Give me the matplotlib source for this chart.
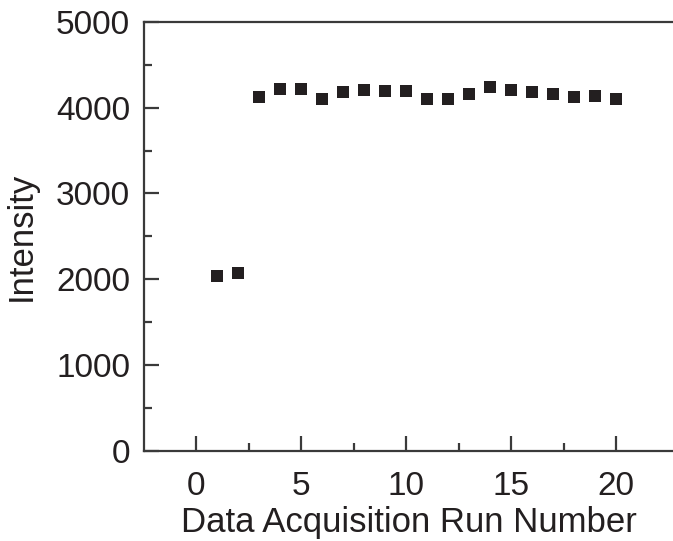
import numpy as np
import matplotlib.pyplot as plt
from matplotlib.ticker import MultipleLocator, FixedLocator

plt.rcParams['font.family'] = ['Liberation Sans', 'DejaVu Sans']

# run number vs measured intensity
run_number = np.arange(1, 21)
intensity = [2035, 2078, 4127, 4214, 4214, 4101, 4179, 4202, 4191, 4198,
             4105, 4098, 4156, 4244, 4202, 4179, 4163, 4124, 4140, 4101]

ink = '#231f20'

fig = plt.figure(figsize=(6.73, 5.41), dpi=100)
ax = fig.add_axes([0.214, 0.166, 0.786, 0.794])

ax.plot(run_number, intensity, 's', color=ink, markersize=9, markeredgewidth=0)

ax.set_xlim(-2.5, 22.7)
ax.set_ylim(0, 5000)
ax.xaxis.set_major_locator(MultipleLocator(5))
ax.xaxis.set_minor_locator(FixedLocator([2.5, 7.5, 12.5, 17.5]))
ax.yaxis.set_major_locator(MultipleLocator(1000))
ax.yaxis.set_minor_locator(MultipleLocator(500))

ax.spines['right'].set_visible(False)
for s in ['left', 'bottom', 'top']:
    ax.spines[s].set_linewidth(1.6)
    ax.spines[s].set_color('#3a3a3a')

ax.tick_params(which='major', direction='in', length=11, width=1.6, color='#3a3a3a',
               labelsize=24, labelcolor=ink)
ax.tick_params(which='minor', direction='in', length=6, width=1.6, color='#3a3a3a')
ax.tick_params(axis='x', which='major', pad=14)
ax.tick_params(axis='y', which='major', pad=10)
ax.tick_params(top=False, right=False, which='both')

ax.set_xlabel('Data Acquisition Run Number', fontsize=25, color=ink, labelpad=3)
ax.set_ylabel('Intensity', fontsize=25, color=ink, labelpad=13)

fig.savefig('out.png', dpi=100)
